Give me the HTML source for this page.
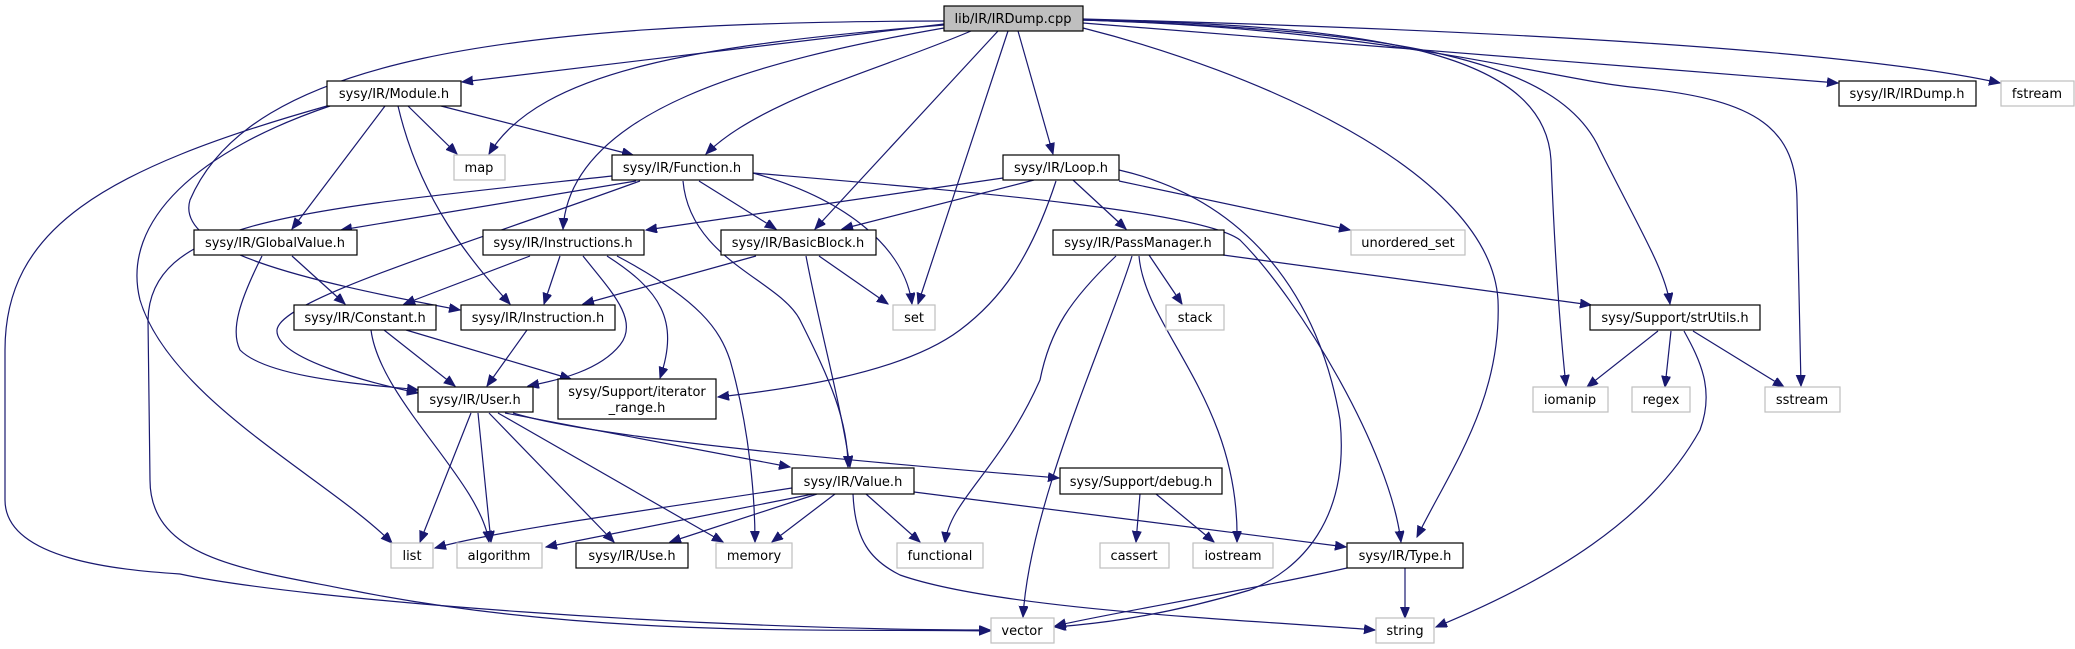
<!DOCTYPE html>
<html><head><meta charset="utf-8"><style>
html,body{margin:0;padding:0;background:#fff;}
svg{display:block;}
text{font-family:"DejaVu Sans","Liberation Sans",sans-serif;font-size:13px;fill:#000;}
.e{fill:none;stroke:#191970;stroke-width:1.2;marker-end:url(#a);}
.b{fill:#fff;stroke:#000;stroke-width:1.2;}
.g{fill:#fff;stroke:#bfbfbf;stroke-width:1.2;}
</style></head><body>
<svg width="2075" height="649" viewBox="0 0 2075 649" xmlns="http://www.w3.org/2000/svg">
<defs><marker id="a" markerUnits="userSpaceOnUse" markerWidth="12" markerHeight="10" refX="11" refY="4.5" orient="auto"><path d="M0,0 L11,4.5 L0,9 z" fill="#191970" stroke="#191970"/></marker></defs>
<g>
<path class="e" d="M944,24 L462,82"/>
<path class="e" d="M944,25 C700,45 540,70 489,154"/>
<path class="e" d="M971,31 C880,70 760,100 706,154"/>
<path class="e" d="M944,28 C760,60 570,110 563,229"/>
<path class="e" d="M944,21 C500,22 250,60 190,200 C175,250 300,280 460,310"/>
<path class="e" d="M998,31 L815,229"/>
<path class="e" d="M1008,31 L918,304"/>
<path class="e" d="M1018,31 L1053,154"/>
<path class="e" d="M1083,28 C1250,70 1490,170 1498,300 C1502,400 1450,470 1417,537"/>
<path class="e" d="M1083,20 C1400,30 1560,60 1600,150 C1640,230 1665,270 1670,304"/>
<path class="e" d="M1083,20 C1400,25 1545,60 1551,160 C1555,260 1560,330 1566,386"/>
<path class="e" d="M1083,20 C1400,30 1550,80 1640,88 C1760,100 1796,130 1797,200 L1801,386"/>
<path class="e" d="M1083,23 L1838,83"/>
<path class="e" d="M1083,19 C1500,30 1850,50 2000,83"/>
<path class="e" d="M408,106 L457,154"/>
<path class="e" d="M441,106 L633,155"/>
<path class="e" d="M385,106 L292,229"/>
<path class="e" d="M398,106 C420,200 470,260 510,304"/>
<path class="e" d="M330,106 C200,150 120,220 140,300 C170,400 330,480 392,543"/>
<path class="e" d="M327,106 C100,170 5,230 5,350 L5,500 C5,560 120,570 180,574 C300,600 700,630 990,630"/>
<path class="e" d="M636,181 L341,230"/>
<path class="e" d="M640,181 C450,250 280,300 277,330 C275,360 380,385 418,393"/>
<path class="e" d="M612,176 C300,210 150,220 148,320 L150,480 C150,560 250,570 350,590 C600,640 850,628 990,631"/>
<path class="e" d="M699,181 L776,229"/>
<path class="e" d="M753,173 C850,200 905,250 912,304"/>
<path class="e" d="M683,181 C690,260 780,280 800,320 C830,380 848,420 848,467"/>
<path class="e" d="M753,173 C950,190 1200,210 1240,240 C1300,300 1390,450 1401,542"/>
<path class="e" d="M1003,178 L646,230"/>
<path class="e" d="M1034,180 L842,229"/>
<path class="e" d="M1056,181 C1030,260 1000,300 960,330 C900,375 780,390 718,397"/>
<path class="e" d="M1073,180 L1126,229"/>
<path class="e" d="M1119,181 L1350,230"/>
<path class="e" d="M1119,170 C1250,200 1320,300 1340,420 C1350,520 1300,570 1250,590 C1150,620 1080,625 1055,627"/>
<path class="e" d="M292,256 L345,304"/>
<path class="e" d="M262,256 C240,300 230,330 240,350 C270,380 380,385 418,390"/>
<path class="e" d="M530,256 L404,304"/>
<path class="e" d="M560,256 L544,304"/>
<path class="e" d="M583,256 C610,290 640,320 620,345 C600,370 560,380 528,386"/>
<path class="e" d="M607,256 C660,290 680,320 660,378"/>
<path class="e" d="M617,256 C700,300 720,330 730,360 C750,430 755,500 755,542"/>
<path class="e" d="M756,256 L583,304"/>
<path class="e" d="M819,256 L888,304"/>
<path class="e" d="M806,256 C820,330 840,400 850,467"/>
<path class="e" d="M384,330 L455,386"/>
<path class="e" d="M406,330 L571,379"/>
<path class="e" d="M371,330 C380,400 480,480 489,542"/>
<path class="e" d="M527,330 L487,386"/>
<path class="e" d="M471,413 L420,542"/>
<path class="e" d="M478,413 L491,542"/>
<path class="e" d="M489,413 L614,542"/>
<path class="e" d="M498,413 L723,542"/>
<path class="e" d="M505,413 L790,467"/>
<path class="e" d="M513,413 C600,440 900,465 1059,478"/>
<path class="e" d="M792,488 C650,510 500,530 435,548"/>
<path class="e" d="M813,494 L546,547"/>
<path class="e" d="M817,494 L670,542"/>
<path class="e" d="M835,494 L772,542"/>
<path class="e" d="M866,494 L920,542"/>
<path class="e" d="M853,494 C855,540 870,560 900,575 C1000,610 1250,620 1375,630"/>
<path class="e" d="M914,492 L1346,547"/>
<path class="e" d="M1140,494 L1136,542"/>
<path class="e" d="M1156,494 L1214,542"/>
<path class="e" d="M1223,255 L1591,305"/>
<path class="e" d="M1149,255 L1182,304"/>
<path class="e" d="M1116,256 C1070,300 1050,330 1040,380 C1000,470 950,500 945,543"/>
<path class="e" d="M1132,256 C1110,330 1030,500 1023,617"/>
<path class="e" d="M1139,256 C1145,330 1240,400 1237,542"/>
<path class="e" d="M1658,331 L1587,387"/>
<path class="e" d="M1671,331 L1665,387"/>
<path class="e" d="M1684,331 C1700,360 1715,390 1700,430 C1650,520 1550,580 1436,627"/>
<path class="e" d="M1693,331 L1784,387"/>
<path class="e" d="M1347,568 C1250,590 1100,615 1055,626"/>
<path class="e" d="M1405,568 L1405,618"/>
</g>
<g text-anchor="middle">
<rect x="944" y="6" width="139" height="25" fill="#bfbfbf" stroke="#000" stroke-width="1.2"/><text x="1013" y="23">lib/IR/IRDump.cpp</text>
<rect class="b" x="327" y="81" width="134" height="25"/><text x="394" y="98">sysy/IR/Module.h</text>
<rect class="b" x="1839" y="81" width="137" height="25"/><text x="1907" y="98">sysy/IR/IRDump.h</text>
<rect class="g" x="2001" y="81" width="73" height="25"/><text x="2037" y="98">fstream</text>
<rect class="g" x="454" y="155" width="51" height="25"/><text x="479" y="172">map</text>
<rect class="b" x="612" y="155" width="141" height="25"/><text x="682" y="172">sysy/IR/Function.h</text>
<rect class="b" x="1003" y="155" width="116" height="25"/><text x="1061" y="172">sysy/IR/Loop.h</text>
<rect class="b" x="194" y="230" width="163" height="25"/><text x="275" y="247">sysy/IR/GlobalValue.h</text>
<rect class="b" x="483" y="230" width="161" height="25"/><text x="563" y="247">sysy/IR/Instructions.h</text>
<rect class="b" x="721" y="230" width="155" height="25"/><text x="798" y="247">sysy/IR/BasicBlock.h</text>
<rect class="b" x="1053" y="230" width="171" height="25"/><text x="1138" y="247">sysy/IR/PassManager.h</text>
<rect class="g" x="1351" y="230" width="114" height="25"/><text x="1408" y="247">unordered_set</text>
<rect class="b" x="294" y="305" width="142" height="25"/><text x="365" y="322">sysy/IR/Constant.h</text>
<rect class="b" x="461" y="305" width="154" height="25"/><text x="538" y="322">sysy/IR/Instruction.h</text>
<rect class="g" x="893" y="305" width="42" height="25"/><text x="914" y="322">set</text>
<rect class="g" x="1166" y="305" width="58" height="25"/><text x="1195" y="322">stack</text>
<rect class="b" x="1590" y="305" width="170" height="25"/><text x="1675" y="322">sysy/Support/strUtils.h</text>
<rect class="b" x="418" y="387" width="115" height="25"/><text x="475" y="404">sysy/IR/User.h</text>
<rect class="b" x="558" y="379" width="158" height="40"/><text x="637" y="396">sysy/Support/iterator</text><text x="637" y="412">_range.h</text>
<rect class="g" x="1533" y="387" width="75" height="25"/><text x="1570" y="404">iomanip</text>
<rect class="g" x="1632" y="387" width="58" height="25"/><text x="1661" y="404">regex</text>
<rect class="g" x="1765" y="387" width="75" height="25"/><text x="1802" y="404">sstream</text>
<rect class="b" x="792" y="468" width="122" height="26"/><text x="853" y="486">sysy/IR/Value.h</text>
<rect class="b" x="1060" y="468" width="162" height="26"/><text x="1141" y="486">sysy/Support/debug.h</text>
<rect class="g" x="391" y="543" width="42" height="25"/><text x="412" y="560">list</text>
<rect class="g" x="457" y="543" width="85" height="25"/><text x="499" y="560">algorithm</text>
<rect class="b" x="576" y="543" width="112" height="25"/><text x="632" y="560">sysy/IR/Use.h</text>
<rect class="g" x="716" y="543" width="76" height="25"/><text x="754" y="560">memory</text>
<rect class="g" x="897" y="543" width="86" height="25"/><text x="940" y="560">functional</text>
<rect class="g" x="1100" y="543" width="69" height="25"/><text x="1134" y="560">cassert</text>
<rect class="g" x="1193" y="543" width="80" height="25"/><text x="1233" y="560">iostream</text>
<rect class="b" x="1347" y="543" width="116" height="25"/><text x="1405" y="560">sysy/IR/Type.h</text>
<rect class="g" x="991" y="618" width="63" height="25"/><text x="1022" y="635">vector</text>
<rect class="g" x="1376" y="618" width="58" height="25"/><text x="1405" y="635">string</text>
</g>
</svg>
</body></html>
